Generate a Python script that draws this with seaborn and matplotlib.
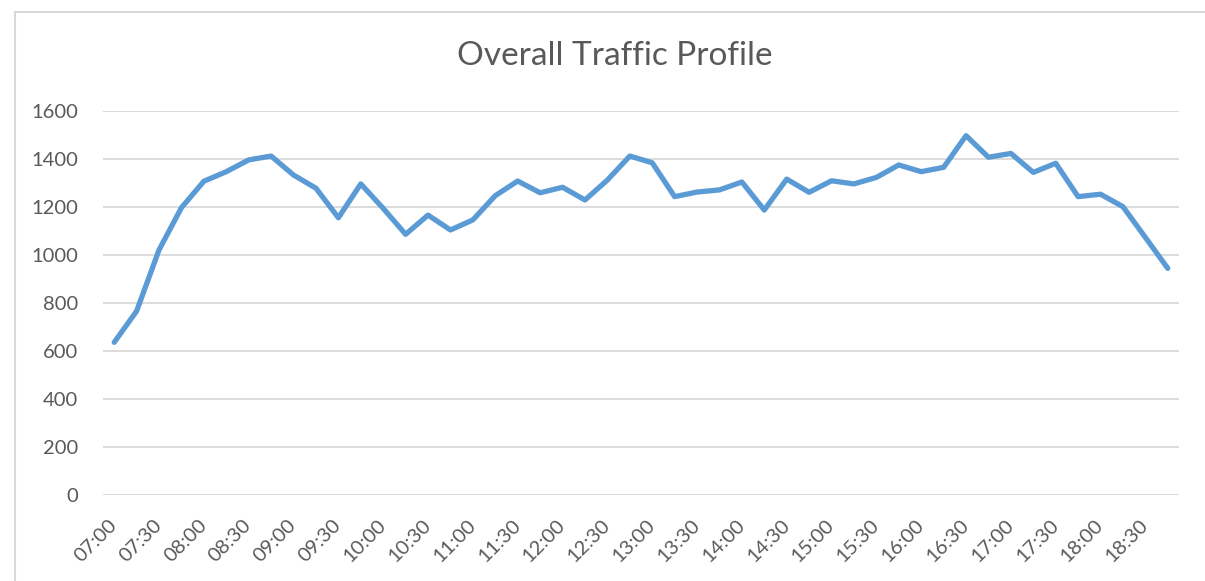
import pandas as pd
import matplotlib
matplotlib.use("Agg")
import matplotlib.pyplot as plt
import seaborn as sns
from matplotlib.patches import Rectangle

# 15-minute intervals
times = [
    "07:00", "07:15", "07:30", "07:45", "08:00", "08:15", "08:30", "08:45",
    "09:00", "09:15", "09:30", "09:45", "10:00", "10:15", "10:30", "10:45",
    "11:00", "11:15", "11:30", "11:45", "12:00", "12:15", "12:30", "12:45",
    "13:00", "13:15", "13:30", "13:45", "14:00", "14:15", "14:30", "14:45",
    "15:00", "15:15", "15:30", "15:45", "16:00", "16:15", "16:30", "16:45",
    "17:00", "17:15", "17:30", "17:45", "18:00", "18:15", "18:30", "18:45",
]
traffic = [
    635, 765, 1020, 1196, 1306, 1346, 1395, 1411,
    1332, 1277, 1154, 1295, 1193, 1085, 1165, 1103,
    1145, 1246, 1307, 1258, 1281, 1228, 1311, 1411,
    1383, 1242, 1261, 1270, 1303, 1186, 1315, 1260,
    1308, 1295, 1322, 1374, 1346, 1364, 1496, 1406,
    1422, 1343, 1381, 1242, 1252, 1200, 1072, 943,
]
y_ticks = [0, 200, 400, 600, 800, 1000, 1200, 1400, 1600]

TEXT = "#595959"
GRID = "#d9d9d9"
BLUE = "#5b9bd5"

sns.set_style("white")
plt.rcParams["font.family"] = ["Lato", "DejaVu Sans"]

df = pd.DataFrame({"time": times, "count": traffic})
df["pos"] = range(len(df))

fig = plt.figure(figsize=(12.05, 5.81), dpi=100)
ax = fig.add_axes([103 / 1205, 86.3 / 581, 1076 / 1205, 384 / 581])

sns.lineplot(data=df, x="pos", y="count", ax=ax, color=BLUE, linewidth=3.8,
             solid_joinstyle="round", solid_capstyle="round")

ax.set_xlim(-0.5, len(times) - 0.5)
ax.set_ylim(0, 1600)
ax.set_yticks(y_ticks)
ax.set_yticklabels([str(v) for v in y_ticks])
ax.set_xticks(df["pos"][::2])
ax.set_xticklabels(df["time"][::2], rotation=45, ha="right", va="center",
                   rotation_mode="anchor")
ax.tick_params(axis="x", length=0, pad=20, labelsize=14.5, labelcolor=TEXT)
ax.tick_params(axis="y", length=0, pad=18, labelsize=14.5, labelcolor=TEXT)
ax.grid(axis="y", color=GRID, linewidth=1.3)
ax.grid(axis="x", visible=False)
ax.set_axisbelow(True)
for s in ax.spines.values():
    s.set_visible(False)
ax.set_xlabel("")
ax.set_ylabel("")

fig.text(615 / 1205, 1 - 56 / 581, "Overall Traffic Profile", ha="center",
         va="center", fontsize=24, color=TEXT)

# chart frame
fig.add_artist(Rectangle((15 / 1205, -0.2), 1.2, 1.2 - 12 / 581,
                         transform=fig.transFigure, fill=False,
                         edgecolor=GRID, linewidth=1.5))

fig.savefig("out.png", dpi=100)
